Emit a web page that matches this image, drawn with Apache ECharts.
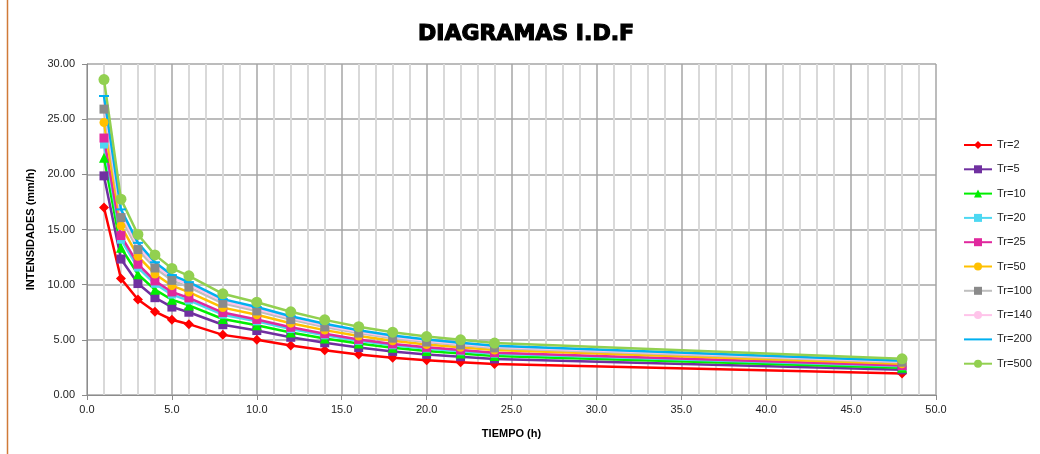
<!DOCTYPE html>
<html>
<head>
<meta charset="utf-8">
<script src="https://cdn.jsdelivr.net/npm/echarts@6/dist/echarts.min.js"></script>
<style>
  html, body { margin: 0; padding: 0; background: #fff; }
  #chart { width: 1040px; height: 454px; }
</style>
</head>
<body>
<div id="chart"></div>
<script>
// Duración de la lluvia (h)
const tiempo = [1, 2, 3, 4, 5, 6, 8, 10, 12, 14, 16, 18, 20, 22, 24, 48];

// Intensidades (mm/h) por periodo de retorno
const tr2   = [17.00, 10.55, 8.65, 7.55, 6.82, 6.42, 5.45, 5.00, 4.48, 4.05, 3.68, 3.38, 3.15, 2.97, 2.80, 1.95];
const tr5   = [19.86, 12.32, 10.10, 8.82, 7.97, 7.50, 6.37, 5.84, 5.23, 4.73, 4.30, 3.95, 3.68, 3.47, 3.27, 2.28];
const tr10  = [21.51, 13.35, 10.94, 9.55, 8.63, 8.12, 6.89, 6.33, 5.67, 5.12, 4.66, 4.28, 3.98, 3.76, 3.54, 2.47];
const tr20  = [22.70, 14.08, 11.55, 10.08, 9.10, 8.57, 7.28, 6.68, 5.98, 5.41, 4.91, 4.51, 4.21, 3.96, 3.74, 2.60];
const tr25  = [23.29, 14.45, 11.85, 10.34, 9.34, 8.80, 7.47, 6.85, 6.14, 5.55, 5.04, 4.63, 4.32, 4.07, 3.84, 2.67];
const tr50  = [24.70, 15.33, 12.57, 10.97, 9.91, 9.33, 7.92, 7.27, 6.51, 5.88, 5.35, 4.91, 4.58, 4.32, 4.07, 2.83];
const tr100 = [25.91, 16.08, 13.18, 11.51, 10.39, 9.78, 8.31, 7.62, 6.83, 6.17, 5.61, 5.15, 4.80, 4.53, 4.27, 2.97];
const tr140 = [26.52, 16.46, 13.49, 11.78, 10.64, 10.02, 8.50, 7.80, 6.99, 6.32, 5.74, 5.27, 4.91, 4.63, 4.37, 3.04];
const tr200 = [27.10, 16.82, 13.79, 12.03, 10.87, 10.23, 8.69, 7.97, 7.14, 6.46, 5.87, 5.39, 5.02, 4.73, 4.46, 3.11];
const tr500 = [28.59, 17.75, 14.55, 12.70, 11.47, 10.80, 9.17, 8.41, 7.54, 6.81, 6.19, 5.69, 5.30, 5.00, 4.71, 3.28];

const seriesDefs = [
  { name: 'Tr=2',   data: tr2,   color: '#ff0000', symbol: 'diamond',  size: 10 },
  { name: 'Tr=5',   data: tr5,   color: '#7030a0', symbol: 'rect',     size: 9 },
  { name: 'Tr=10',  data: tr10,  color: '#00ee00', symbol: 'triangle', size: 10 },
  { name: 'Tr=20',  data: tr20,  color: '#4dd8f2', symbol: 'rect',     size: 8 },
  { name: 'Tr=25',  data: tr25,  color: '#e0289e', symbol: 'rect',     size: 9 },
  { name: 'Tr=50',  data: tr50,  color: '#ffc000', symbol: 'circle',   size: 9 },
  { name: 'Tr=100', data: tr100, color: '#bfbfbf', symbol: 'rect',     size: 9, markColor: '#8a8a8a' },
  { name: 'Tr=140', data: tr140, color: '#ffc4ea', symbol: 'none',     size: 0 },
  { name: 'Tr=200', data: tr200, color: '#00b0f0', symbol: 'rect',     size: [10, 2], plainLegend: true },
  { name: 'Tr=500', data: tr500, color: '#92d050', symbol: 'circle',   size: 11 }
];

const labelFont = { fontFamily: 'Liberation Sans, Arial, sans-serif', fontSize: 11, color: '#222' };

const chart = echarts.init(document.getElementById('chart'), null, { renderer: 'canvas' });

chart.setOption({
  backgroundColor: '#ffffff',
  animation: false,
  graphic: [
    {
      type: 'text',
      x: 526, y: 34,
      style: {
        text: 'DIAGRAMAS I.D.F',
        fontFamily: 'DejaVu Sans, sans-serif',
        fontWeight: 'bold',
        fontSize: 22,
        fill: '#000',
        stroke: '#000',
        lineWidth: 1.2,
        textAlign: 'center',
        textVerticalAlign: 'middle'
      }
    },
    {
      type: 'line',
      shape: { x1: 7.5, y1: 0, x2: 7.5, y2: 454 },
      style: { stroke: '#d07a38', lineWidth: 1.5 }
    }
  ],
  legend: {
    orient: 'vertical',
    left: 963,
    top: 138,
    padding: 0,
    itemWidth: 28,
    itemHeight: 10,
    itemGap: 10.3,
    textStyle: Object.assign({}, labelFont, { lineHeight: 14 }),
    data: seriesDefs.map(s => s.plainLegend
      ? { name: s.name, itemStyle: { opacity: 0 } }
      : s.name)
  },
  grid: { left: 87, right: 104, top: 64, bottom: 59, containLabel: false },
  xAxis: {
    type: 'value',
    min: 0, max: 50, interval: 5,
    name: 'TIEMPO (h)',
    nameLocation: 'middle',
    nameGap: 33,
    nameTextStyle: { fontFamily: 'Liberation Sans, Arial, sans-serif', fontSize: 11, fontWeight: 'bold', color: '#000' },
    axisLine: { show: true, onZero: false, lineStyle: { color: '#8c8c8c', width: 1 } },
    axisTick: { show: true, length: 5, lineStyle: { color: '#8c8c8c' } },
    axisLabel: Object.assign({}, labelFont, { margin: 9, formatter: v => v.toFixed(1) }),
    splitLine: { show: true, lineStyle: { color: '#a6a6a6', width: 1.5 } },
    minorTick: { show: false, splitNumber: 5 },
    minorSplitLine: { show: true, lineStyle: { color: '#d9d9d9', width: 2 } }
  },
  yAxis: {
    type: 'value',
    min: 0, max: 30, interval: 5,
    name: 'INTENSIDADES (mm/h)',
    nameLocation: 'middle',
    nameGap: 48,
    nameRotate: 90,
    nameTextStyle: { fontFamily: 'Liberation Sans, Arial, sans-serif', fontSize: 11, fontWeight: 'bold', color: '#000' },
    axisLine: { show: true, lineStyle: { color: '#8c8c8c', width: 1 } },
    axisTick: { show: true, length: 5, lineStyle: { color: '#8c8c8c' } },
    axisLabel: Object.assign({}, labelFont, { margin: 12, formatter: v => v.toFixed(2) }),
    splitLine: { show: true, lineStyle: { color: '#a6a6a6', width: 1.5 } }
  },
  series: seriesDefs.map(s => ({
    name: s.name,
    type: 'line',
    data: tiempo.map((t, i) => [t, s.data[i]]),
    symbol: s.symbol,
    symbolSize: s.size,
    showSymbol: s.symbol !== 'none',
    lineStyle: { color: s.color, width: 2.5 },
    itemStyle: { color: s.markColor || s.color },
    emphasis: { disabled: true }
  }))
});
</script>
</body>
</html>
